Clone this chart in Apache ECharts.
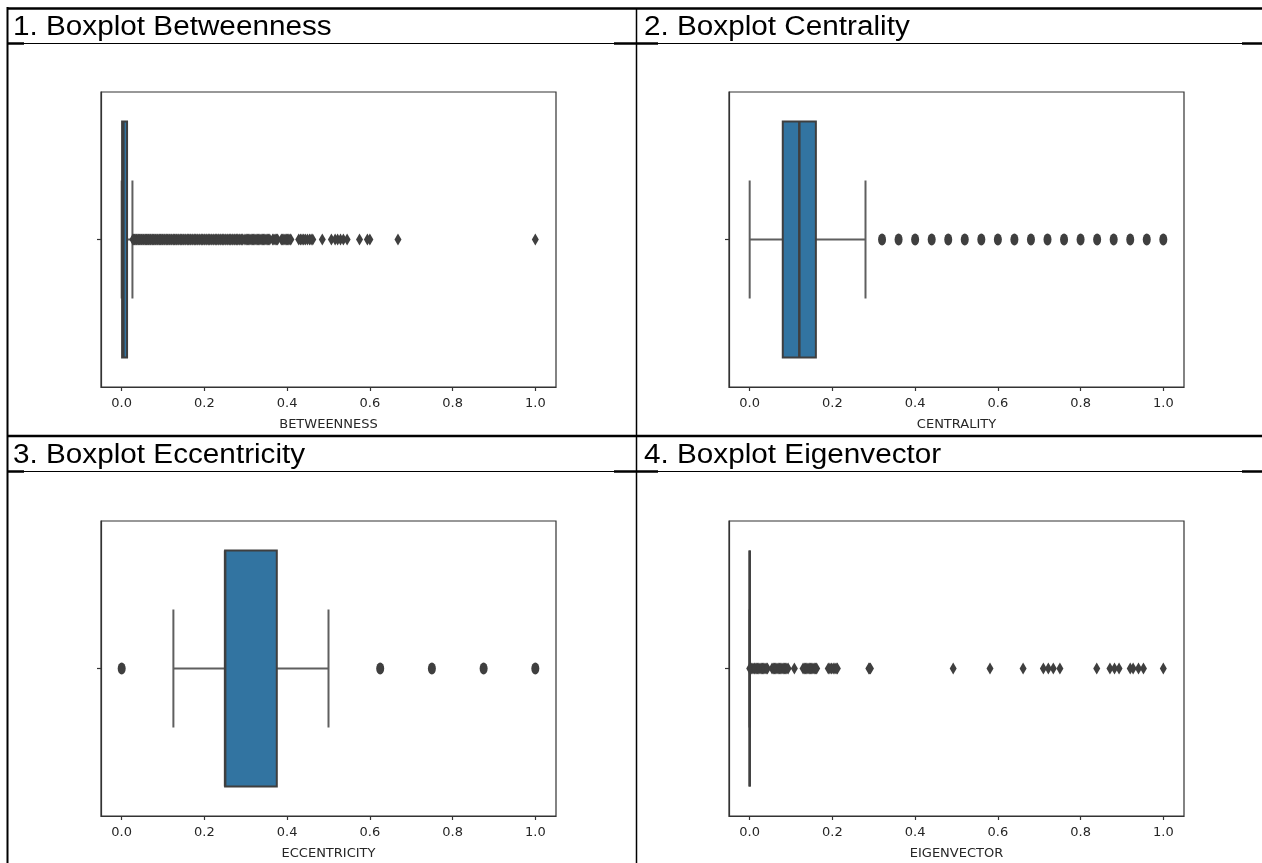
<!DOCTYPE html>
<html>
<head>
<meta charset="utf-8">
<script src="https://cdn.jsdelivr.net/npm/echarts@6.0.0/dist/echarts.min.js"></script>
<style>
  html, body { margin: 0; padding: 0; background: #ffffff; }
  #chart { width: 1262px; height: 863px; }
</style>
</head>
<body>
<div id="chart"></div>
<script>
// ---- data ----------------------------------------------------------------
const panelTitles = [
  '1. Boxplot Betweenness',
  '2. Boxplot Centrality',
  '3. Boxplot Eccentricity',
  '4. Boxplot Eigenvector'
];
const axisNames = ['BETWEENNESS', 'CENTRALITY', 'ECCENTRICITY', 'EIGENVECTOR'];
const xTicks = [0.0, 0.2, 0.4, 0.6, 0.8, 1.0];

// five-number summaries: [lower whisker, Q1, median, Q3, upper whisker]
const betweennessBox = [0, 0.001, 0.004, 0.013, 0.026];
const centralityBox = [0, 0.08, 0.12, 0.16, 0.28];
const eccentricityBox = [0.125, 0.25, 0.25, 0.375, 0.5];
const eigenvectorBox = [0, 0, 0, 0, 0];

// outliers beyond the whiskers
const betweennessOutliers = [
  0.027, 0.029, 0.031, 0.034, 0.036, 0.039, 0.041, 0.043, 0.046, 0.048, 0.051, 0.053,
  0.056, 0.058, 0.060, 0.063, 0.065, 0.068, 0.070, 0.073, 0.075, 0.077, 0.080, 0.082,
  0.085, 0.087, 0.090, 0.092, 0.094, 0.097, 0.099, 0.102, 0.104, 0.107, 0.109, 0.111,
  0.114, 0.116, 0.119, 0.121, 0.124, 0.126, 0.128, 0.131, 0.133, 0.136, 0.138, 0.141,
  0.143, 0.145, 0.148, 0.150, 0.153, 0.155, 0.158, 0.160, 0.162, 0.165, 0.167, 0.170,
  0.172, 0.175, 0.177, 0.179, 0.182, 0.184, 0.187, 0.189, 0.192, 0.194, 0.196, 0.199,
  0.201, 0.204, 0.206, 0.209, 0.211, 0.213, 0.216, 0.218, 0.221, 0.223, 0.226, 0.228,
  0.230, 0.233, 0.235, 0.238, 0.240, 0.243, 0.245, 0.247, 0.250, 0.252, 0.255, 0.257,
  0.260, 0.262, 0.264, 0.267, 0.269, 0.272, 0.274, 0.277, 0.279, 0.281, 0.284, 0.286,
  0.289, 0.291, 0.293,
  0.298, 0.301, 0.304, 0.307, 0.310, 0.313, 0.316, 0.319, 0.322, 0.325, 0.328, 0.331,
  0.334, 0.337, 0.340, 0.343, 0.346, 0.349, 0.352, 0.355, 0.358, 0.365, 0.368, 0.371,
  0.374, 0.377, 0.386, 0.389, 0.392, 0.395, 0.398, 0.401, 0.404, 0.407, 0.409,
  0.428, 0.432, 0.436, 0.440, 0.444, 0.449, 0.454, 0.458, 0.462,
  0.485, 0.507, 0.516, 0.522, 0.529, 0.536, 0.545, 0.575, 0.594, 0.600, 0.668, 1.0
];
const centralityOutliers = [
  0.32, 0.36, 0.40, 0.44, 0.48, 0.52, 0.56, 0.60, 0.64, 0.68, 0.72, 0.76, 0.80, 0.84,
  0.88, 0.92, 0.96, 1.0
];
const eccentricityOutliers = [0, 0.625, 0.75, 0.875, 1.0];
const eigenvectorOutliers = [
  0.000, 0.002, 0.005, 0.008, 0.011, 0.013, 0.016, 0.019, 0.022, 0.025, 0.028, 0.031,
  0.034, 0.037, 0.040, 0.043,
  0.054, 0.057, 0.060, 0.063, 0.066, 0.069, 0.072, 0.075, 0.078, 0.081, 0.084, 0.087,
  0.090, 0.093,
  0.108,
  0.129, 0.132, 0.135, 0.138, 0.141, 0.144, 0.147, 0.150, 0.153, 0.156, 0.159, 0.162,
  0.190, 0.194, 0.198, 0.202, 0.206, 0.209, 0.212,
  0.288, 0.290, 0.292,
  0.492, 0.581, 0.661, 0.710, 0.722, 0.734, 0.750, 0.839, 0.871, 0.882, 0.893,
  0.920, 0.927, 0.940, 0.952, 1.0
];

// ---- styling / layout ------------------------------------------------------
const BOX_FILL = '#3274a1';
const LINE_DARK = '#3f3f3f';
const WHISKER = '#5f5f5f';
const FRAME = '#333333';
const TEXT = '#262626';

const panels = [
  { box: betweennessBox, outliers: betweennessOutliers, left: 101, top: 92, marker: 'diamond', msize: [7, 12] },
  { box: centralityBox, outliers: centralityOutliers, left: 729, top: 92, marker: 'circle', msize: [8, 12] },
  { box: eccentricityBox, outliers: eccentricityOutliers, left: 101, top: 521, marker: 'circle', msize: [8, 12] },
  { box: eigenvectorBox, outliers: eigenvectorOutliers, left: 729, top: 521, marker: 'diamond', msize: [7, 12] }
];
const PLOT_W = 455;
const PLOT_H = 295;

// draws one horizontal box with half-width whisker caps
function renderBox(params, api) {
  const X = v => api.coord([v, 0])[0];
  const yc = api.coord([0, 0])[1];
  const band = api.size([0, 1])[1];
  const half = band * 0.4;
  const low = api.value(1), q1 = api.value(2), med = api.value(3), q3 = api.value(4), high = api.value(5);
  const wStyle = { stroke: WHISKER, lineWidth: 2 };
  return {
    type: 'group',
    children: [
      { type: 'line', shape: { x1: X(low), y1: yc, x2: X(q1), y2: yc }, style: wStyle },
      { type: 'line', shape: { x1: X(q3), y1: yc, x2: X(high), y2: yc }, style: wStyle },
      { type: 'line', shape: { x1: X(low), y1: yc - half / 2, x2: X(low), y2: yc + half / 2 }, style: wStyle },
      { type: 'line', shape: { x1: X(high), y1: yc - half / 2, x2: X(high), y2: yc + half / 2 }, style: wStyle },
      {
        type: 'rect',
        shape: { x: X(q1), y: yc - half, width: X(q3) - X(q1), height: half * 2 },
        style: { fill: BOX_FILL, stroke: LINE_DARK, lineWidth: 2 }
      },
      { type: 'line', shape: { x1: X(med), y1: yc - half, x2: X(med), y2: yc + half }, style: { stroke: LINE_DARK, lineWidth: 2.5 } }
    ]
  };
}

const grid = [], xAxis = [], yAxis = [], series = [];
panels.forEach((p, i) => {
  grid.push({
    left: p.left, top: p.top, width: PLOT_W, height: PLOT_H,
    show: true, borderColor: FRAME, borderWidth: 1.2, backgroundColor: '#ffffff',
    outerBoundsMode: 'none'
  });
  xAxis.push({
    gridIndex: i, type: 'value', min: -0.05, max: 1.05,
    name: axisNames[i], nameLocation: 'middle', nameGap: 31,
    nameTextStyle: { fontFamily: 'DejaVu Sans', fontSize: 13, color: TEXT },
    axisLine: { show: true, onZero: false, lineStyle: { color: FRAME, width: 1.2 } },
    axisTick: { show: true, length: 4, customValues: xTicks, lineStyle: { color: FRAME, width: 1.2 } },
    axisLabel: {
      customValues: xTicks, margin: 10, fontFamily: 'DejaVu Sans', fontSize: 13, color: TEXT,
      formatter: v => v.toFixed(1)
    },
    splitLine: { show: false }
  });
  yAxis.push({
    gridIndex: i, type: 'category', data: [''],
    axisLine: { show: true, onZero: false, lineStyle: { color: FRAME, width: 1.2 } },
    axisTick: { show: true, alignWithLabel: true, length: 4, lineStyle: { color: FRAME, width: 1.2 } },
    axisLabel: { show: true, formatter: () => '' },
    splitLine: { show: false }
  });
  series.push({
    type: 'custom', xAxisIndex: i, yAxisIndex: i,
    renderItem: renderBox,
    encode: { x: [1, 2, 3, 4, 5], y: 0 },
    data: [[0].concat(p.box)],
    z: 2
  });
  series.push({
    type: 'scatter', xAxisIndex: i, yAxisIndex: i,
    symbol: p.marker, symbolSize: p.msize,
    itemStyle: { color: LINE_DARK, opacity: 1 },
    data: p.outliers.map(v => [v, 0]),
    z: 3
  });
});

// ---- table frame and cell headings ------------------------------------------
function hLine(x1, x2, y, w) {
  return { type: 'line', silent: true, shape: { x1, y1: y, x2, y2: y }, style: { stroke: '#000', lineWidth: w } };
}
function vLine(x, y1, y2, w) {
  return { type: 'line', silent: true, shape: { x1: x, y1, x2: x, y2 }, style: { stroke: '#000', lineWidth: w } };
}
function heading(text, x, y) {
  return {
    type: 'text', silent: true, x, y, scaleX: 1.1, scaleY: 1,
    style: { text, fontFamily: 'Liberation Sans, Arial, sans-serif', fontSize: 27, fill: '#000', align: 'left', verticalAlign: 'middle' }
  };
}

const graphic = [
  hLine(7, 1262, 8.5, 2.5),
  vLine(7.5, 7, 863, 2),
  vLine(636.5, 8, 863, 1.5),
  hLine(7, 1262, 43.5, 1.2),
  hLine(7, 24, 43.5, 2.5), hLine(614, 658, 43.5, 2.5), hLine(1242, 1262, 43.5, 2.5),
  hLine(7, 1262, 436, 2.5),
  hLine(7, 1262, 471.5, 1.2),
  hLine(7, 24, 471.5, 2.5), hLine(614, 658, 471.5, 2.5), hLine(1242, 1262, 471.5, 2.5),
  heading(panelTitles[0], 13, 28),
  heading(panelTitles[1], 644, 28),
  heading(panelTitles[2], 13, 456),
  heading(panelTitles[3], 644, 456)
];

const chart = echarts.init(document.getElementById('chart'), null, { renderer: 'canvas' });
chart.setOption({
  backgroundColor: '#ffffff',
  animation: false,
  grid, xAxis, yAxis, series, graphic
});
</script>
</body>
</html>
